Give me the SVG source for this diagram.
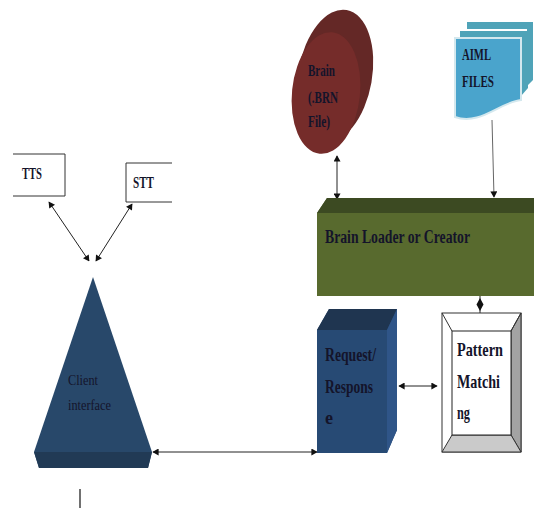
<svg xmlns="http://www.w3.org/2000/svg" width="534" height="508" viewBox="0 0 534 508">
<style>
text{font-family:"Liberation Serif",serif;font-weight:bold;fill:#14142a}
.c{stroke:#222;stroke-width:1;fill:none;marker-start:url(#s);marker-end:url(#e)}
.b{stroke:#333;stroke-width:1;fill:#fff}
</style>
<defs>
<marker id="e" viewBox="0 0 10 10" refX="9" refY="5" markerWidth="7" markerHeight="7" markerUnits="userSpaceOnUse" orient="auto"><path d="M1 0L10 5L1 10z" fill="#111"/></marker>
<marker id="s" viewBox="0 0 10 10" refX="1" refY="5" markerWidth="7" markerHeight="7" markerUnits="userSpaceOnUse" orient="auto"><path d="M9 0L0 5L9 10z" fill="#111"/></marker>
</defs>
<rect width="534" height="508" fill="#fff"/>
<g id="connectors">
<path class="c" d="M337 156V199"/>
<path d="M492 120L494 197" stroke="#666" fill="none" marker-end="url(#e)"/>
<path d="M480 296V313" stroke="#222" fill="none"/>
<path d="M480 298L483.500 304.500L480 311L476.500 304.500z" fill="#111"/>
<path class="c" d="M399 386H437"/>
<path class="c" d="M153 452H317"/>
<path class="c" d="M49 202L89 261"/>
<path class="c" d="M132 204L96 261"/>
<path d="M80 489V508" stroke="#111" stroke-width="1.2"/>
</g>
<g id="tts"><path class="b" d="M13 154H65V196H13"/><text x="22" y="179" font-size="17" textLength="20" lengthAdjust="spacingAndGlyphs">TTS</text></g>
<g id="stt"><path class="b" d="M172 163H126V202H172"/><text x="133" y="188" font-size="17" textLength="21" lengthAdjust="spacingAndGlyphs">STT</text></g>
<g id="client-interface">
<path d="M93 277L152 452L148 468H39L34 452z" fill="#28486a"/>
<path d="M34 452H152L148 468H39z" fill="#213a55"/>
<text x="68" y="385" font-size="15" textLength="30" lengthAdjust="spacingAndGlyphs" style="font-weight:normal">Client</text>
<text x="68" y="410" font-size="15" textLength="43" lengthAdjust="spacingAndGlyphs" style="font-weight:normal">interface</text>
</g>
<g id="brain">
<ellipse cx="335" cy="76" rx="37" ry="67" fill="#642826" transform="rotate(10 335 76)"/>
<ellipse cx="326" cy="93" rx="34" ry="61" fill="#752c2a" transform="rotate(6 326 93)"/>
<text x="308" y="76" font-size="17" textLength="27" lengthAdjust="spacingAndGlyphs">Brain</text>
<text x="308" y="103" font-size="17" textLength="30" lengthAdjust="spacingAndGlyphs">(.BRN</text>
<text x="308" y="127" font-size="17" textLength="22" lengthAdjust="spacingAndGlyphs">File)</text>
</g>
<g id="aiml-files">
<path d="M467 22H533V80L527 86V29H467z" fill="#4fa3b8"/>
<path d="M460 31H528V88L521 96V37H460z" fill="#4fa3b8"/>
<path d="M455 38H521V100C500 102 480 126 455 117z" fill="#4aa4cc" stroke="#d4e8ee" stroke-width="2"/>
<text x="462" y="60" font-size="16" textLength="29" lengthAdjust="spacingAndGlyphs">AIML</text>
<text x="462" y="87" font-size="16" textLength="32" lengthAdjust="spacingAndGlyphs">FILES</text>
</g>
<g id="brain-loader">
<path d="M317 213L327 198H534V296H317z" fill="#586a2e"/>
<path d="M317 213L327 198H534V213z" fill="#3c4a22"/>
<text x="325" y="243" font-size="18" textLength="145" lengthAdjust="spacingAndGlyphs">Brain Loader or Creator</text>
</g>
<g id="request-response">
<path d="M317 330L329 309H397V430L387 453H317z" fill="#274a74"/>
<path d="M317 330L329 309H397L387 330z" fill="#1f3550"/>
<path d="M387 330L397 309V430L387 453z" fill="#2f5588"/>
<text x="325" y="361" font-size="19" textLength="51" lengthAdjust="spacingAndGlyphs">Request/</text>
<text x="325" y="393" font-size="19" textLength="48" lengthAdjust="spacingAndGlyphs">Respons</text>
<text x="325" y="424" font-size="19" textLength="8" lengthAdjust="spacingAndGlyphs">e</text>
</g>
<g id="pattern-matching">
<rect x="442" y="313" width="79" height="139" fill="#fff" stroke="#333"/>
<path d="M521 313V452L511 435V331z" fill="#a3a3a3" stroke="#333"/>
<path d="M442 452H521L511 435H452z" fill="#cacaca" stroke="#333"/>
<path d="M442 313L452 331M521 313L511 331" stroke="#333"/>
<rect x="452" y="331" width="59" height="104" fill="#fff" stroke="#222"/>
<text x="457" y="356" font-size="19" textLength="46" lengthAdjust="spacingAndGlyphs">Pattern</text>
<text x="457" y="388" font-size="19" textLength="43" lengthAdjust="spacingAndGlyphs">Matchi</text>
<text x="457" y="419" font-size="19" textLength="13" lengthAdjust="spacingAndGlyphs">ng</text>
</g>
</svg>
